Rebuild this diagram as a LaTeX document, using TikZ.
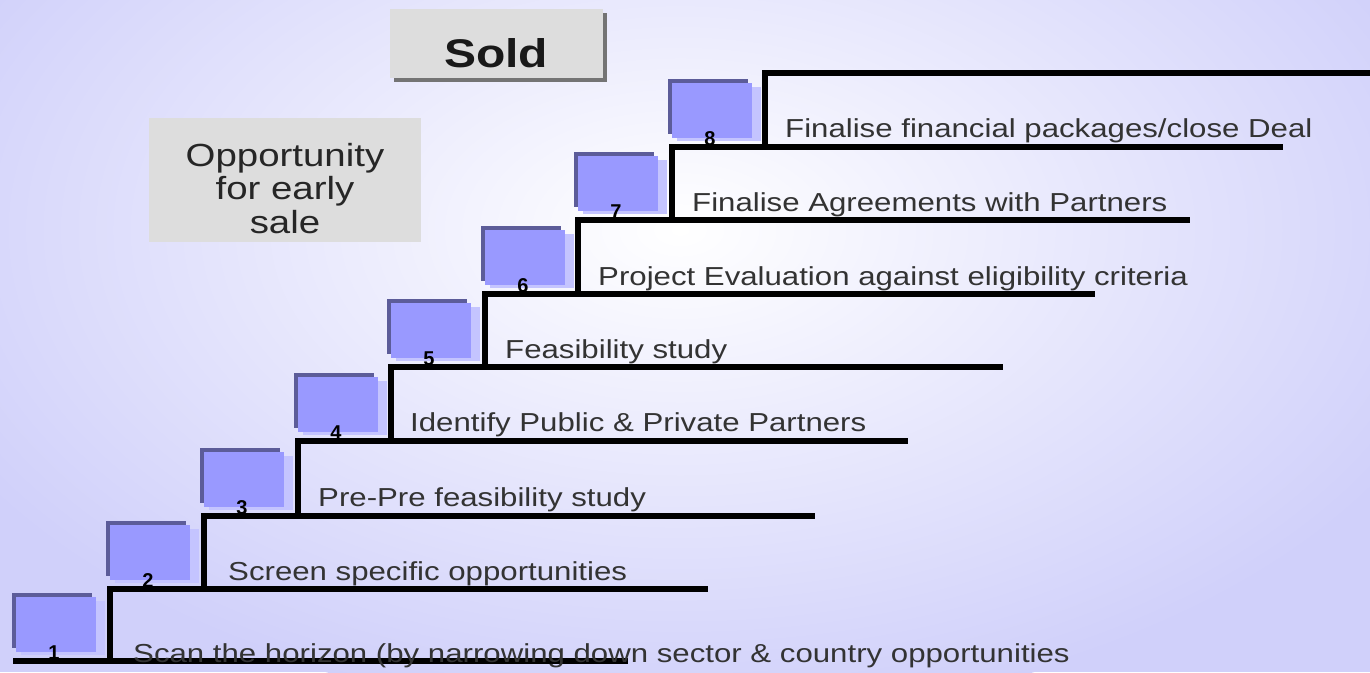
\documentclass[tikz,border=0pt]{standalone}
\usepackage{fontspec}
\setmainfont{Liberation Sans}
\newfontfamily\widefont[FakeStretch=1.2]{Liberation Sans}
\definecolor{bgout}{HTML}{D0D0FA}
\definecolor{boxblue}{HTML}{9999FF}
\definecolor{boxdark}{HTML}{5C5C99}
\definecolor{boxlight}{HTML}{C4C4FF}
\definecolor{cardgray}{HTML}{DDDDDD}
\definecolor{cardshadow}{HTML}{747474}
\definecolor{steptext}{HTML}{333333}
\tikzset{
  stair/.style={line width=5.4pt, line cap=rect, black},
  steplabel/.style={anchor=base west, inner sep=0pt, text=steptext,
    font=\widefont\fontsize{26}{30}\selectfont},
  stepnum/.style={anchor=base, inner sep=0pt, text=black,
    font=\bfseries\fontsize{20}{22}\selectfont},
  card/.style={fill=cardgray, draw=none},
  cardtext/.style={anchor=base, inner sep=0pt, text=black!85,
    font=\widefont\fontsize{32}{36}\selectfont}
}
\begin{document}
\begin{tikzpicture}[x=1pt, y=-1pt]
\useasboundingbox (0,0) rectangle (1370,672);
\clip (0,0) rectangle (1370,672);

% soft lavender background, lighter towards the upper middle
\fill[bgout] (0,0) rectangle (1370,672);
\shade[inner color=white, outer color=bgout] (680,230) ellipse [x radius=820, y radius=490];

% grey labels
\fill[cardshadow] (394,13) rectangle (607,82);
\fill[card] (390,9) rectangle (603,78);
\node[anchor=base, inner sep=0pt, text=black!90, font=\widefont\bfseries\fontsize{40}{44}\selectfont] (sold) at (496,67) {Sold};

\fill[card] (149,118) rectangle (421,242);
\node[cardtext] (opp1) at (285,166) {Opportunity};
\node[cardtext] (opp2) at (285,199) {for early};
\node[cardtext] (opp3) at (285,233) {sale};

% staircase: floor start / riser x / floor y / next floor y / floor end
\foreach \k/\xs/\xr/\y/\yn/\xe in {
  1/16/110/661/589/625,
  2/110/204/589/516/705,
  3/204/298/516/441/812,
  4/298/391/441/367/905,
  5/391/485/367/294/1000,
  6/485/578/294/220/1092,
  7/578/672/220/147/1187,
  8/672/765/147/73/1280}{
  \draw[stair] (\xs,\y) -- (\xe,\y);
  \draw[stair] (\xr,\y) -- (\xr,\yn);
  % numbered block sitting on the floor
  \fill[boxdark]  (\xs-4,\y-68) rectangle ++(80,55);
  \fill[boxlight] (\xs+5,\y-60) rectangle ++(84,54);
  \fill[boxblue]  (\xs,\y-64) rectangle ++(80,55);
  \node[stepnum] (n\k) at (\xs+38,\y-2) {\k};
}
\draw[stair] (765,73) -- (1375,73);

% step descriptions
\node[steplabel] (t1) at (133,662) {Scan the horizon (by narrowing down sector \& country opportunities};
\node[steplabel] (t2) at (228,580) {Screen specific opportunities};
\node[steplabel] (t3) at (318,506) {Pre-Pre feasibility study};
\node[steplabel] (t4) at (410,431) {Identify Public \& Private Partners};
\node[steplabel] (t5) at (505,358) {Feasibility study};
\node[steplabel] (t6) at (598,285) {Project Evaluation against eligibility criteria};
\node[steplabel] (t7) at (692,211) {Finalise Agreements with Partners};
\node[steplabel] (t8) at (785,137) {Finalise financial packages/close Deal};
\end{tikzpicture}
\end{document}
